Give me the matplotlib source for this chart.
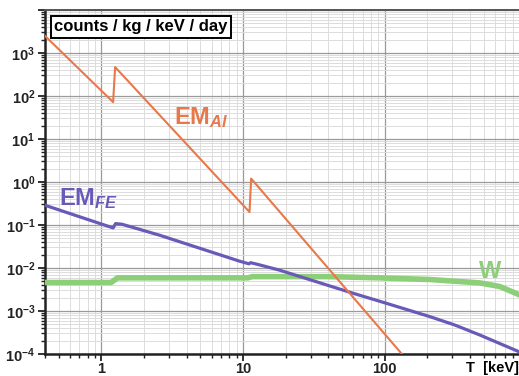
import matplotlib
matplotlib.use("Agg")
import matplotlib.pyplot as plt
from matplotlib.ticker import FixedLocator, LogLocator, NullFormatter, FixedFormatter

plt.rcParams["font.family"] = ["Liberation Sans", "DejaVu Sans"]
plt.rcParams["mathtext.fontset"] = "custom"
plt.rcParams["mathtext.rm"] = "Liberation Sans"
plt.rcParams["mathtext.bf"] = "Liberation Sans:bold"
plt.rcParams["mathtext.it"] = "Liberation Sans:italic"
plt.rcParams["mathtext.bfit"] = "Liberation Sans:italic:bold"

# Spectra (T in keV, rate in counts / kg / keV / day)
al_T = [0.4, 1.21, 1.25, 11.1, 11.4, 132]
al_rate = [2500, 72, 470, 0.20, 1.2, 1e-4]

fe_T = [0.4, 1.21, 1.26, 1.40, 2.57, 9.45, 11.0, 11.3, 13.1, 18.1, 59.4,
        100, 208, 313, 469, 885, 1000]
fe_rate = [0.288, 0.0855, 0.108, 0.104, 0.058, 0.0144, 0.0125, 0.0133,
           0.0118, 0.0089, 0.0026, 0.00155, 7.4e-4, 4.7e-4, 2.76e-4,
           1.13e-4, 9.5e-5]

w_T = [0.4, 1.17, 1.30, 10.8, 11.6, 40, 92, 208, 469, 650, 885, 1000]
w_rate = [0.0046, 0.0046, 0.0059, 0.0059, 0.0063, 0.0063, 0.0059, 0.0054,
          0.0045, 0.0037, 0.0024, 0.0020]

x_ticks = [1, 10, 100, 1000]
x_ticklabels = ["1", "10", "100", ""]
y_ticks = [1e-4, 1e-3, 1e-2, 1e-1, 1e0, 1e1, 1e2, 1e3, 1e4]
y_ticklabels = [r"$\mathbf{10^{%d}}$" % e for e in range(-4, 4)] + [""]

c_al = "#e8784a"
c_fe = "#6a5ab8"
c_w = "#8ccf78"

W, H = 519, 376
fig = plt.figure(figsize=(W / 100, H / 100), dpi=100)
left, right, bottom, top = 45, 526.5, 354, 10
ax = fig.add_axes([left / W, (H - bottom) / H, (right - left) / W, (bottom - top) / H])

ax.set_xscale("log")
ax.set_yscale("log")
ax.set_xlim(0.4, 1000)
ax.set_ylim(1e-4, 1e4)

ax.plot(w_T, w_rate, color=c_w, lw=4.0, solid_capstyle="butt", zorder=3)
ax.plot(fe_T, fe_rate, color=c_fe, lw=2.3, zorder=4)
ax.plot(al_T, al_rate, color=c_al, lw=1.5, zorder=5)

# grid
ax.xaxis.set_major_locator(FixedLocator(x_ticks))
ax.xaxis.set_major_formatter(FixedFormatter(x_ticklabels))
ax.xaxis.set_minor_locator(LogLocator(base=10, subs=range(2, 10), numticks=20))
ax.xaxis.set_minor_formatter(NullFormatter())
ax.yaxis.set_major_locator(FixedLocator(y_ticks))
ax.yaxis.set_major_formatter(FixedFormatter(y_ticklabels))
ax.yaxis.set_minor_locator(LogLocator(base=10, subs=range(2, 10), numticks=20))
ax.yaxis.set_minor_formatter(NullFormatter())

ax.grid(which="major", color="#9a9a9a", lw=0.9, zorder=0)
ax.grid(which="minor", color="#dcdcdc", lw=0.7, zorder=0)
ax.set_axisbelow(True)

for s in ("left", "bottom"):
    ax.spines[s].set_linewidth(1.8)
    ax.spines[s].set_color("#222222")
ax.spines["top"].set_linewidth(1.4)
ax.spines["top"].set_color("#555555")
ax.spines["right"].set_visible(False)

ax.tick_params(which="major", direction="out", length=5, width=1.3, colors="#222222",
               labelsize=10.5, pad=2)
ax.tick_params(which="minor", direction="out", length=3, width=1.0, colors="#222222")
ax.tick_params(axis="x", which="major", pad=0.5)
for lab in ax.get_xticklabels():
    lab.set_fontweight("bold")

# unit box
ax.text(0.4 * 1.16, 10 ** 3.61, "counts / kg / keV / day", fontsize=12, fontweight="bold",
        va="center", ha="left", zorder=10,
        bbox=dict(boxstyle="square,pad=0.2", fc="white", ec="black", lw=1.4))

# curve labels
ax.text(3.28, 10 ** 1.34, r"$\mathbf{EM}_{\mathbfit{Al}}$", color=c_al, fontsize=17,
        ha="left", va="baseline", zorder=6)
ax.text(0.505, 10 ** -0.54, r"$\mathbf{EM}_{\mathbfit{FE}}$", color=c_fe, fontsize=17,
        ha="left", va="baseline", zorder=6)
ax.text(465, 10 ** -2.085, "W", color=c_w, fontsize=17, fontweight="bold",
        ha="left", va="center", zorder=6)

# axis title at the right end
fig.text(466 / W, (H - 368) / H, "T  [keV]", fontsize=10.5, fontweight="bold",
         ha="left", va="center")

fig.savefig("out.png", dpi=100)
